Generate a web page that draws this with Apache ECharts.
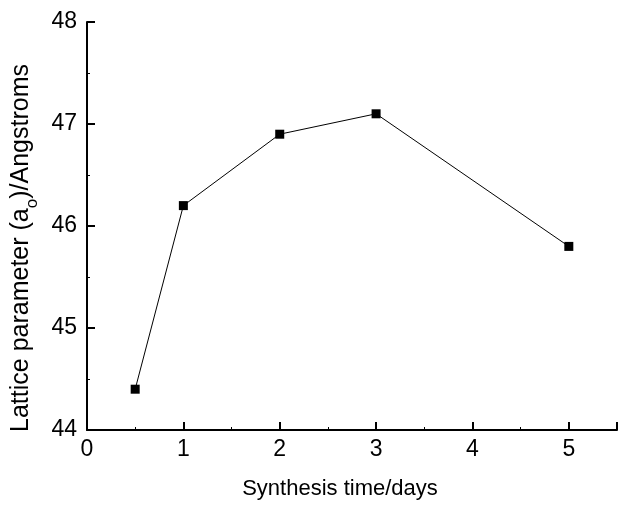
<!DOCTYPE html>
<html>
<head>
<meta charset="utf-8">
<script src="https://cdn.jsdelivr.net/npm/echarts@6/dist/echarts.min.js"></script>
<style>html,body{margin:0;padding:0;background:#fff}#c{width:618px;height:505px}</style>
</head>
<body>
<div id="c"></div>
<script>
var days = [0.5, 1, 2, 3, 5];
var latticeParam = [44.4, 46.2, 46.9, 47.1, 45.8];
var xTicks = [0, 1, 2, 3, 4, 5];
var yTicks = [44, 45, 46, 47, 48];

var chart = echarts.init(document.getElementById('c'), null, {renderer: 'canvas'});
var font = 'Liberation Sans, Arial, sans-serif';
chart.setOption({
  animation: false,
  backgroundColor: '#fff',
  grid: {left: 87, top: 22, right: 1, bottom: 74, containLabel: false},
  xAxis: {
    type: 'value', min: 0, max: 5.5, interval: 1,
    name: 'Synthesis time/days', nameLocation: 'middle', nameGap: 48,
    nameTextStyle: {fontFamily: font, fontSize: 22, color: '#000', padding: [0, 24, 0, 0]},
    axisLine: {show: true, lineStyle: {color: '#000', width: 2}},
    axisTick: {show: true, inside: true, length: 8, lineStyle: {color: '#000', width: 2}},
    minorTick: {show: true, splitNumber: 2, length: 3, lineStyle: {color: '#000', width: 1}},
    splitLine: {show: false},
    axisLabel: {fontFamily: font, fontSize: 23, color: '#000', margin: 8,
      showMaxLabel: false,
      formatter: function (v) { return xTicks.indexOf(v) >= 0 ? String(v) : ''; }}
  },
  yAxis: {
    type: 'value', min: 44, max: 48, interval: 1,
    name: 'Lattice parameter (a{s|o})/Angstroms', nameLocation: 'middle', nameGap: 50,
    nameTextStyle: {fontFamily: font, fontSize: 25, color: '#000', padding: [0, 44, 0, 0],
      rich: {s: {fontFamily: font, fontSize: 17, color: '#000', verticalAlign: 'bottom', padding: [0, 0, -7, 0]}}},
    axisLine: {show: true, lineStyle: {color: '#000', width: 2}},
    axisTick: {show: true, inside: true, length: 8, lineStyle: {color: '#000', width: 2}},
    minorTick: {show: true, splitNumber: 2, length: 3, lineStyle: {color: '#000', width: 1}},
    splitLine: {show: false},
    axisLabel: {fontFamily: font, fontSize: 23, color: '#000', margin: 10,
      formatter: function (v) { return yTicks.indexOf(v) >= 0 ? String(v) : ''; }}
  },
  series: [{
    type: 'line',
    data: days.map(function (d, i) { return [d, latticeParam[i]]; }),
    symbol: 'rect', symbolSize: 9,
    itemStyle: {color: '#000'},
    lineStyle: {color: '#000', width: 1}
  }]
});
</script>
</body>
</html>
